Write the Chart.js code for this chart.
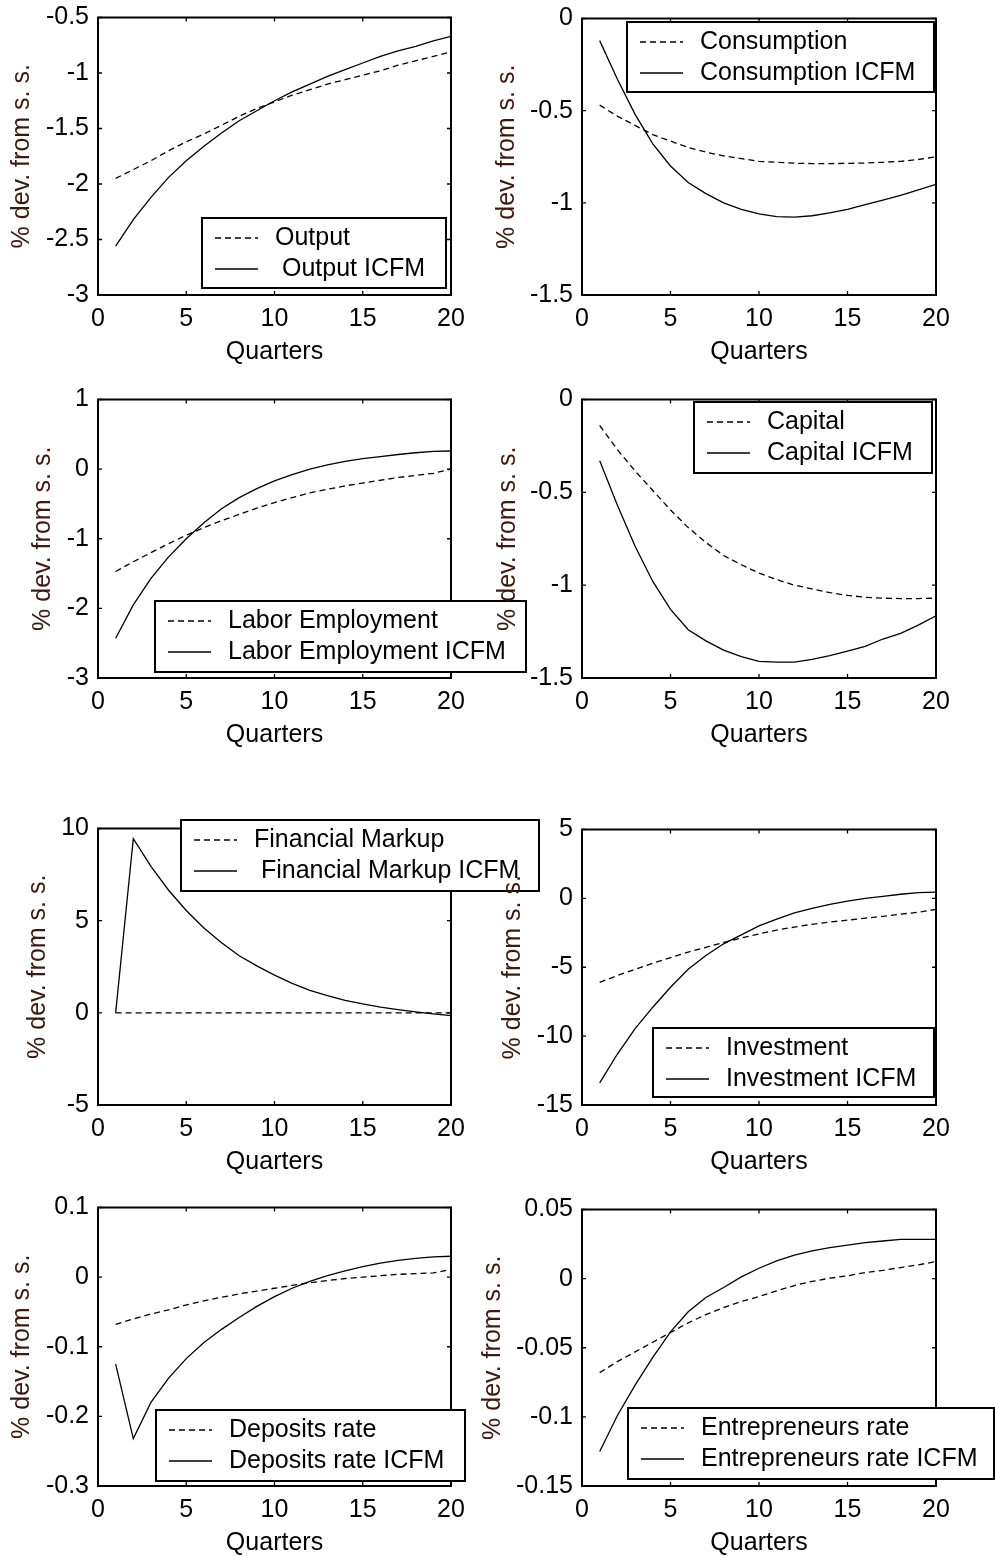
<!DOCTYPE html>
<html>
<head>
<meta charset="utf-8">
<script src="https://cdn.jsdelivr.net/npm/chart.js@4"></script>
<style>
  body { margin: 0; background: #fff; width: 995px; height: 1556px; position: relative; overflow: hidden; }
  canvas { position: absolute; }
</style>
</head>
<body>
<script>
// quarters after the shock
const quarters = [1, 2, 3, 4, 5, 6, 7, 8, 9, 10, 11, 12, 13, 14, 15, 16, 17, 18, 19, 20];
const xTicks = [0, 5, 10, 15, 20];

const outputBase = [-1.95, -1.87, -1.79, -1.70, -1.62, -1.55, -1.47, -1.39, -1.32, -1.26, -1.20, -1.15, -1.10, -1.06, -1.02, -0.98, -0.93, -0.89, -0.85, -0.81];
const outputICFM = [-2.56, -2.32, -2.12, -1.94, -1.79, -1.66, -1.54, -1.43, -1.34, -1.25, -1.17, -1.10, -1.03, -0.97, -0.91, -0.85, -0.80, -0.76, -0.71, -0.67];
const outputTicks = [-3, -2.5, -2, -1.5, -1, -0.5];

const consumptionBase = [-0.47, -0.53, -0.58, -0.63, -0.665, -0.70, -0.725, -0.745, -0.76, -0.775, -0.78, -0.785, -0.787, -0.787, -0.786, -0.784, -0.78, -0.775, -0.765, -0.75];
const consumptionICFM = [-0.12, -0.33, -0.52, -0.68, -0.80, -0.89, -0.95, -1.00, -1.035, -1.06, -1.075, -1.078, -1.07, -1.055, -1.035, -1.01, -0.985, -0.96, -0.93, -0.90];
const consumptionTicks = [-1.5, -1, -0.5, 0];

const laborBase = [-1.47, -1.33, -1.20, -1.07, -0.95, -0.84, -0.74, -0.65, -0.56, -0.48, -0.41, -0.34, -0.29, -0.24, -0.20, -0.16, -0.12, -0.09, -0.06, 0.00];
const laborICFM = [-2.43, -1.95, -1.57, -1.26, -1.00, -0.77, -0.57, -0.41, -0.28, -0.17, -0.08, 0.00, 0.06, 0.11, 0.15, 0.18, 0.21, 0.235, 0.255, 0.26];
const laborTicks = [-3, -2, -1, 0, 1];

const capitalBase = [-0.14, -0.27, -0.385, -0.49, -0.595, -0.69, -0.77, -0.84, -0.89, -0.935, -0.97, -1.0, -1.02, -1.04, -1.055, -1.065, -1.07, -1.072, -1.072, -1.07];
const capitalICFM = [-0.33, -0.57, -0.79, -0.98, -1.13, -1.24, -1.30, -1.35, -1.385, -1.41, -1.415, -1.415, -1.40, -1.38, -1.355, -1.33, -1.29, -1.26, -1.215, -1.165];
const capitalTicks = [-1.5, -1, -0.5, 0];

const markupBase = [0, 0, 0, 0, 0, 0, 0, 0, 0, 0, 0, 0, 0, 0, 0, 0, 0, 0, 0, 0];
const markupICFM = [0, 9.45, 7.95, 6.65, 5.55, 4.6, 3.8, 3.1, 2.55, 2.05, 1.6, 1.22, 0.93, 0.68, 0.48, 0.31, 0.17, 0.05, -0.06, -0.15];
const markupTicks = [-5, 0, 5, 10];

const investmentBase = [-6.1, -5.6, -5.15, -4.7, -4.3, -3.9, -3.55, -3.2, -2.88, -2.58, -2.3, -2.08, -1.88, -1.72, -1.58, -1.44, -1.3, -1.15, -1.0, -0.8];
const investmentICFM = [-13.4, -11.3, -9.45, -7.9, -6.45, -5.15, -4.15, -3.3, -2.65, -2.0, -1.5, -1.05, -0.72, -0.43, -0.2, 0.0, 0.15, 0.3, 0.42, 0.45];
const investmentTicks = [-15, -10, -5, 0, 5];

const depositsBase = [-0.068, -0.06, -0.053, -0.047, -0.04, -0.034, -0.029, -0.024, -0.02, -0.016, -0.012, -0.008, -0.005, -0.002, 0.0, 0.002, 0.004, 0.005, 0.006, 0.011];
const depositsICFM = [-0.125, -0.232, -0.18, -0.145, -0.117, -0.094, -0.075, -0.058, -0.042, -0.028, -0.016, -0.006, 0.002, 0.009, 0.015, 0.02, 0.024, 0.027, 0.029, 0.030];
const depositsTicks = [-0.3, -0.2, -0.1, 0, 0.1];

const entrepBase = [-0.068, -0.060, -0.053, -0.046, -0.039, -0.032, -0.026, -0.021, -0.0165, -0.013, -0.0088, -0.005, -0.002, 0.0003, 0.002, 0.0044, 0.006, 0.008, 0.010, 0.0123];
const entrepICFM = [-0.125, -0.099, -0.077, -0.057, -0.0385, -0.024, -0.0136, -0.0064, 0.0013, 0.0075, 0.0128, 0.017, 0.020, 0.0224, 0.0243, 0.026, 0.0272, 0.0284, 0.0284, 0.0284];
const entrepTicks = [-0.15, -0.1, -0.05, 0, 0.05];

const FONT = '"Liberation Sans", Arial, sans-serif';
const FS = 25;
const X_AXIS_H = 70;

// plot box (page px), legend box (page px), y label centre x
const panels = [
  { base: outputBase, icfm: outputICFM, ticks: outputTicks, names: ['Output', ' Output ICFM'],
    col: 0, area: [98, 16, 451, 295], legend: [202, 218, 244, 70], ylabX: 22 },
  { base: consumptionBase, icfm: consumptionICFM, ticks: consumptionTicks, names: ['Consumption', 'Consumption ICFM'],
    col: 1, area: [582, 17, 936, 295], legend: [627, 22, 307, 70], ylabX: 507 },
  { base: laborBase, icfm: laborICFM, ticks: laborTicks, names: ['Labor Employment', 'Labor Employment ICFM'],
    col: 0, area: [98, 398, 451, 678], legend: [155, 601, 371, 71], ylabX: 43 },
  { base: capitalBase, icfm: capitalICFM, ticks: capitalTicks, names: ['Capital', 'Capital ICFM'],
    col: 1, area: [582, 398, 936, 678], legend: [694, 402, 238, 71], ylabX: 508 },
  { base: markupBase, icfm: markupICFM, ticks: markupTicks, names: ['Financial Markup', ' Financial Markup ICFM'],
    col: 0, area: [98, 827, 451, 1105], legend: [181, 820, 358, 71], ylabX: 38 },
  { base: investmentBase, icfm: investmentICFM, ticks: investmentTicks, names: ['Investment', 'Investment ICFM'],
    col: 1, area: [582, 828, 936, 1105], legend: [653, 1028, 281, 69], ylabX: 513 },
  { base: depositsBase, icfm: depositsICFM, ticks: depositsTicks, names: ['Deposits rate', 'Deposits rate ICFM'],
    col: 0, area: [98, 1206, 451, 1486], legend: [156, 1410, 309, 71], ylabX: 22 },
  { base: entrepBase, icfm: entrepICFM, ticks: entrepTicks, names: ['Entrepreneurs rate', 'Entrepreneurs rate ICFM'],
    col: 1, area: [582, 1208, 936, 1486], legend: [628, 1408, 366, 71], ylabX: 493 }
];

// matlab style box with inward ticks, plus a boxed legend
const frame = {
  id: 'frame',
  afterDatasetsDraw(chart) {
    const { ctx, chartArea: a, scales: { x, y } } = chart;
    ctx.save();
    ctx.strokeStyle = '#000';
    ctx.lineWidth = 1.3;
    ctx.beginPath();
    x.ticks.forEach(t => {
      const px = x.getPixelForValue(t.value);
      ctx.moveTo(px, a.bottom); ctx.lineTo(px, a.bottom - 4);
      ctx.moveTo(px, a.top); ctx.lineTo(px, a.top + 4);
    });
    y.ticks.forEach(t => {
      const py = y.getPixelForValue(t.value);
      ctx.moveTo(a.left, py); ctx.lineTo(a.left + 4, py);
      ctx.moveTo(a.right, py); ctx.lineTo(a.right - 4, py);
    });
    ctx.stroke();
    ctx.lineWidth = 2;
    ctx.strokeRect(a.left, a.top, a.right - a.left, a.bottom - a.top);
    ctx.restore();
  },
  afterDraw(chart, args, opts) {
    const ctx = chart.ctx;
    const [lx, ly, lw, lh] = opts.box;
    const bx = lx - opts.ox, by = ly - opts.oy;
    ctx.save();
    ctx.fillStyle = '#fff';
    ctx.fillRect(bx, by, lw, lh);
    ctx.strokeStyle = '#000';
    ctx.lineWidth = 2;
    ctx.strokeRect(bx, by, lw, lh);
    chart.data.datasets.forEach((ds, i) => {
      const ry = by + 20 + i * 31;
      ctx.lineWidth = 1.3;
      ctx.setLineDash(ds.borderDash || []);
      ctx.beginPath();
      ctx.moveTo(bx + 13, ry);
      ctx.lineTo(bx + 56, ry);
      ctx.stroke();
      ctx.setLineDash([]);
      ctx.fillStyle = '#000';
      ctx.font = FS + 'px ' + FONT;
      ctx.textBaseline = 'middle';
      ctx.textAlign = 'left';
      ctx.fillText(ds.label, bx + 73, ry);
    });
    ctx.restore();
  }
};

panels.forEach(p => {
  const ox = p.col === 0 ? 0 : 470;
  const cw = p.col === 0 ? 560 : 525;
  const [l, t, r, b] = p.area;
  const oy = t - 20;
  const ch = (b + X_AXIS_H) - oy;

  const canvas = document.createElement('canvas');
  canvas.width = cw;
  canvas.height = ch;
  canvas.style.left = ox + 'px';
  canvas.style.top = oy + 'px';
  document.body.appendChild(canvas);

  new Chart(canvas.getContext('2d'), {
    type: 'line',
    data: {
      labels: quarters,
      datasets: [
        { label: p.names[0], data: p.base, borderColor: '#000', borderWidth: 1.3, borderDash: [6, 4], pointRadius: 0, tension: 0, fill: false },
        { label: p.names[1], data: p.icfm, borderColor: '#000', borderWidth: 1.3, pointRadius: 0, tension: 0, fill: false }
      ]
    },
    options: {
      responsive: false,
      animation: false,
      layout: { padding: { left: 0, top: 20, right: cw - (r - ox), bottom: 0 } },
      plugins: {
        legend: { display: false },
        tooltip: { enabled: false },
        frame: { box: p.legend, ox: ox, oy: oy }
      },
      scales: {
        x: {
          type: 'linear',
          min: 0, max: 20,
          grid: { display: false, drawTicks: false },
          border: { display: false },
          afterBuildTicks: s => { s.ticks = xTicks.map(v => ({ value: v })); },
          afterFit: s => { s.height = X_AXIS_H; },
          ticks: { color: '#000', padding: 12, maxRotation: 0, autoSkip: false,
                   font: { family: FONT, size: FS, lineHeight: 1 }, callback: v => String(v) },
          title: { display: true, text: 'Quarters', color: '#000', padding: 0,
                   font: { family: FONT, size: FS, lineHeight: 1 } }
        },
        y: {
          min: p.ticks[0], max: p.ticks[p.ticks.length - 1],
          grid: { display: false, drawTicks: false },
          border: { display: false },
          afterBuildTicks: s => { s.ticks = p.ticks.map(v => ({ value: v })); },
          afterFit: s => { s.width = l - ox; },
          ticks: { color: '#000', padding: 9, autoSkip: false,
                   font: { family: FONT, size: FS, lineHeight: 1 }, callback: v => String(v) },
          title: { display: true, text: '% dev. from s. s.', color: '#3a1a10',
                   padding: { top: p.ylabX - ox - 12, bottom: 0 },
                   font: { family: FONT, size: FS, lineHeight: 1 } }
        }
      }
    },
    plugins: [frame]
  });
});
</script>
</body>
</html>
